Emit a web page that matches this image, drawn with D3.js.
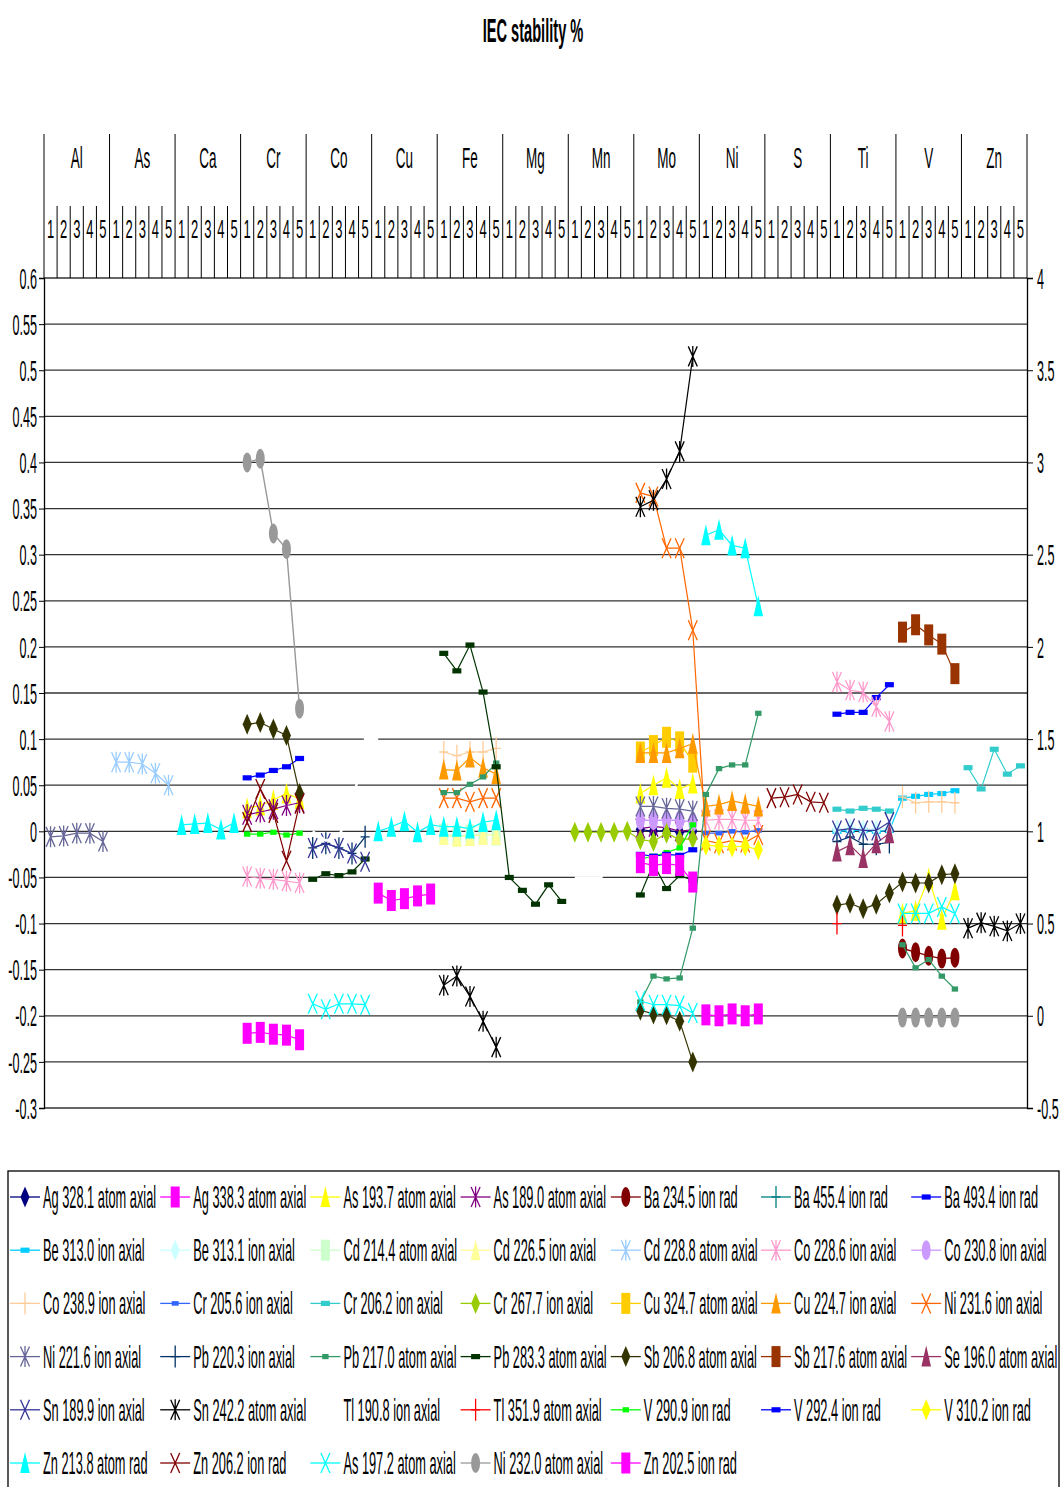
<!DOCTYPE html>
<html><head><meta charset="utf-8">
<script src="https://cdn.jsdelivr.net/npm/d3@7"></script>
<style>
body{margin:0;background:#fff}
svg{display:block}
text{font-family:"Liberation Sans",Arial,sans-serif;fill:#000}
</style>
</head><body>
<svg id="c" width="1062" height="1487"></svg>
<script>
// ---------- categories & ticks ----------
const elements = ["Al","As","Ca","Cr","Co","Cu","Fe","Mg","Mn","Mo","Ni","S","Ti","V","Zn"];
const subLabels = ["1","2","3","4","5"];
const leftTicks = [0.6,0.55,0.5,0.45,0.4,0.35,0.3,0.25,0.2,0.15,0.1,0.05,0,-0.05,-0.1,-0.15,-0.2,-0.25,-0.3];
const rightTicks = [4,3.5,3,2.5,2,1.5,1,0.5,0,-0.5];

// ---------- series names (legend order) ----------
const seriesNames = [
 "Ag 328.1 atom axial","Ag 338.3 atom axial","As 193.7 atom axial","As 189.0 atom axial","Ba 234.5 ion rad","Ba 455.4 ion rad","Ba 493.4 ion rad",
 "Be 313.0 ion axial","Be 313.1 ion axial","Cd 214.4 atom axial","Cd 226.5 ion axial","Cd 228.8 atom axial","Co 228.6 ion axial","Co 230.8 ion axial",
 "Co 238.9 ion axial","Cr 205.6 ion axial","Cr 206.2 ion axial","Cr 267.7 ion axial","Cu 324.7 atom axial","Cu 224.7 ion axial","Ni 231.6 ion axial",
 "Ni 221.6 ion axial","Pb 220.3 ion axial","Pb 217.0 atom axial","Pb 283.3 atom axial","Sb 206.8 atom axial","Sb 217.6 atom axial","Se 196.0 atom axial",
 "Sn 189.9 ion axial","Sn 242.2 atom axial","Tl 190.8 ion axial","Tl 351.9 atom axial","V 290.9 ion rad","V 292.4 ion rad","V 310.2 ion rad",
 "Zn 213.8 atom rad","Zn 206.2 ion rad","As 197.2 atom axial","Ni 232.0 atom axial","Zn 202.5 ion rad"
];

// ---------- values (left-axis units); each segment starts at sub 1 of group g ----------
const ag3281 = [{g:"Mo", v:[0.002,0.0,0.001,-0.001,0.0]}];
const ag3383 = [{g:"Cr", v:[-0.219,-0.218,-0.220,-0.221,-0.226]}];
const as1937 = [{g:"Cr", v:[0.025,0.028,0.034,0.041,0.035]},{g:"Mo", v:[0.041,0.050,0.058,0.046,0.052]},{g:"V", v:[-0.089,-0.086,-0.051,-0.096,-0.064]}];
const as1890 = [{g:"Cr", v:[0.018,0.021,0.024,0.028,0.031]},{g:"Mo", v:[0.003,0.005,0.004,0.0,0.002]}];
const ba2345 = [{g:"V", v:[-0.127,-0.131,-0.135,-0.138,-0.137]}];
const ba4554 = [];
const ba4934 = [{g:"Cr", v:[0.058,0.061,0.066,0.070,0.079]},{g:"Ti", v:[0.127,0.129,0.129,0.145,0.159]}];
const be3130 = [{g:"Ti", v:[0.0,0.001,0.001,0.0,0.001,0.036,0.038,0.040,0.041,0.044]}];
const be3131 = [{g:"Ti", v:[0.002,0.003,0.002,0.002,0.003]}];
const cd2144 = [{g:"Fe", v:[-0.003,-0.005,-0.004,-0.003,-0.004]}];
const cd2265 = [{g:"Fe", v:[-0.004,-0.006,-0.005,-0.004,-0.004]}];
const cd2288 = [{g:"As", v:[0.075,0.075,0.073,0.063,0.050]}];
const co2286 = [{g:"Cr", v:[-0.049,-0.051,-0.052,-0.054,-0.056]},{g:"Ni", v:[0.012,0.013,0.013,0.012,0.012]},{g:"Ti", v:[0.162,0.153,0.151,0.135,0.119]}];
const co2308 = [{g:"Mo", v:[0.012,0.012,0.012,0.012,0.010]}];
const co2389 = [{g:"Fe", v:[0.086,0.082,0.086,0.086,0.090]},{g:"V", v:[0.037,0.031,0.032,0.032,0.031]}];
const cr2056 = [{g:"Ni", v:[-0.002,-0.002,0.0,-0.001,0.001]}];
const cr2062 = [{g:"Ti", v:[0.024,0.022,0.025,0.024,0.022]},{g:"Zn", v:[0.069,0.046,0.089,0.062,0.071]}];
const cr2677 = [{g:"Mn", v:[-0.001,-0.001,-0.001,-0.001,0.0,-0.009,-0.011,-0.002,-0.009,-0.008]}];
const cu3247 = [{g:"Mo", v:[0.086,0.093,0.102,0.097,0.075]}];
const cu2247 = [{g:"Fe", v:[0.067,0.066,0.080,0.069,0.062]},{g:"Mo", v:[0.085,0.085,0.085,0.090,0.095,0.027,0.029,0.033,0.030,0.027]}];
const ni2316 = [{g:"Fe", v:[0.036,0.036,0.032,0.036,0.036]},{g:"Mo", v:[0.367,0.363,0.307,0.307,0.218,-0.010,-0.013,-0.010,-0.012,-0.004]}];
const ni2216 = [{g:"Al", v:[-0.006,-0.005,-0.002,-0.002,-0.011]},{g:"Mo", v:[0.027,0.027,0.025,0.024,0.022]}];
const pb2203 = [{g:"Co", v:[-0.018,-0.013,-0.018,-0.024,-0.006]},{g:"Ti", v:[-0.011,-0.006,-0.014,-0.014,-0.012]}];
const pb2170 = [{g:"Fe", v:[0.042,0.042,0.051,0.059,0.074]},{g:"Mo", v:[-0.185,-0.157,-0.160,-0.159,-0.105,0.040,0.068,0.072,0.072,0.128]},{g:"V", v:[-0.123,-0.148,-0.139,-0.157,-0.171]}];
const pb2833 = [{g:"Co", v:[-0.052,-0.046,-0.048,-0.044,-0.030]},{g:"Fe", v:[0.193,0.174,0.202,0.151,0.070,-0.050,-0.064,-0.079,-0.058,-0.076]},{g:"Mo", v:[-0.069,-0.035,-0.062,-0.048,-0.053]}];
const sb2068 = [{g:"Cr", v:[0.116,0.118,0.111,0.104,0.041]},{g:"Mo", v:[-0.194,-0.198,-0.199,-0.206,-0.250]},{g:"Ti", v:[-0.080,-0.078,-0.084,-0.079,-0.067,-0.055,-0.056,-0.056,-0.047,-0.046]}];
const sb2176 = [{g:"V", v:[0.216,0.224,0.213,0.203,0.171]}];
const se1960 = [{g:"Ti", v:[-0.022,-0.015,-0.029,-0.013,-0.002]}];
const sn1899 = [{g:"Co", v:[-0.018,-0.013,-0.018,-0.024,-0.033]},{g:"Ti", v:[0.001,0.003,0.001,0.001,0.010]}];
const sn2422 = [{g:"Fe", v:[-0.167,-0.157,-0.179,-0.206,-0.234]},{g:"Mo", v:[0.352,0.359,0.382,0.412,0.515]},{g:"Zn", v:[-0.105,-0.099,-0.103,-0.108,-0.100]}];
const tl1908 = [{g:"Co", v:[0.0,-0.01,-0.005,0.025,0.1,0.1]},{g:"Mn", v:[-0.05,-0.05,-0.05,-0.03,-0.02]}];
const tl3519 = [{g:"Ti", v:[-0.100]},{g:"V", v:[-0.102]}];
const v2909  = [{g:"Cr", v:[-0.003,-0.003,-0.001,-0.004,-0.002]},{g:"Mo", v:[-0.030,-0.027,-0.023,-0.018,0.007]}];
const v2924  = [{g:"Mo", v:[-0.025,-0.027,-0.025,-0.026,-0.020]}];
const v3102  = [{g:"Ni", v:[-0.015,-0.016,-0.017,-0.016,-0.020]}];
const zn2138 = [{g:"Ca", v:[0.007,0.008,0.009,0.002,0.009]},{g:"Cu", v:[0.0,0.005,0.011,-0.001,0.007,0.005,0.005,0.003,0.010,0.012]},{g:"Ni", v:[0.321,0.327,0.310,0.307,0.244]}];
const zn2062 = [{g:"Cr", v:[0.010,0.046,0.020,-0.032,0.030]},{g:"S", v:[0.036,0.037,0.040,0.032,0.031]}];
const as1972 = [{g:"Co", v:[-0.187,-0.193,-0.187,-0.187,-0.188]},{g:"Mo", v:[-0.184,-0.188,-0.188,-0.189,-0.197]},{g:"V", v:[-0.089,-0.089,-0.089,-0.082,-0.089]}];
const ni2320 = [{g:"Cr", v:[0.400,0.404,0.323,0.306,0.133]},{g:"V", v:[-0.202,-0.202,-0.202,-0.202,-0.202]}];
const zn2025 = [{g:"Cu", v:[-0.067,-0.075,-0.073,-0.070,-0.068]},{g:"Mo", v:[-0.034,-0.037,-0.035,-0.037,-0.055]},{g:"Ni", v:[-0.199,-0.200,-0.198,-0.200,-0.198]}];

const seriesData = [ag3281,ag3383,as1937,as1890,ba2345,ba4554,ba4934,be3130,be3131,cd2144,cd2265,cd2288,co2286,co2308,
 co2389,cr2056,cr2062,cr2677,cu3247,cu2247,ni2316,ni2216,pb2203,pb2170,pb2833,sb2068,sb2176,se1960,
 sn1899,sn2422,tl1908,tl3519,v2909,v2924,v3102,zn2138,zn2062,as1972,ni2320,zn2025];

// ---------- styles ----------
const seriesColors = ["#000080","#FF00FF","#FFFF00","#800080","#800000","#008080","#0000FF",
 "#00CCFF","#CCFFFF","#CCFFCC","#FFFF99","#99CCFF","#FF99CC","#CC99FF",
 "#FFCC99","#3366FF","#33CCCC","#99CC00","#FFCC00","#FF9900","#FF6600",
 "#666699","#003366","#339966","#003300","#333300","#993300","#993366",
 "#333399","#000000","#FFFFFF","#FF0000","#00FF00","#0000FF","#FFFF00",
 "#00FFFF","#800000","#00FFFF","#999999","#FF00FF"];
const seriesMarkers = ["diamond","rect","tri","star","circle","plus","dash",
 "dash","diamond","rect","tri","star","star","circle",
 "plus","dashs","dash","diamond","rect","tri","x",
 "star","plus","sq","dash","diamond","rect","tri",
 "x","star","none","plus","sq","dash","diamond",
 "tri","x","x","circle","rect"];

// ---------- geometry ----------
const L = 44, R = 1027, T = 278, B = 1108;
const svg = d3.select("#c");
const cats = elements.flatMap(e => subLabels.map(s => e + "|" + s));
const x = d3.scaleBand().domain(cats).range([L, R]).padding(0);
const xc = i => x(cats[i]) + x.bandwidth() / 2;
const yL = d3.scaleLinear().domain([-0.3, 0.6]).range([B, T]);
const yR = d3.scaleLinear().domain([-0.5, 4]).range([B, T]);

function stext(parent, px, py, str, size, sx, anchor, weight) {
  const g = parent.append("g").attr("transform", `translate(${px},${py}) scale(${sx},1)`);
  g.append("text").attr("x", 0).attr("y", 0).attr("text-anchor", anchor || "start")
    .attr("font-size", size).attr("font-weight", weight || "normal").text(str);
  return g;
}

// title
stext(svg, 533, 42, "IEC stability %", 34, 0.43, "middle", "bold");

// gridlines
svg.append("g").selectAll("line").data(leftTicks).join("line")
  .attr("x1", L).attr("x2", R).attr("y1", d => yL(d)).attr("y2", d => yL(d))
  .attr("stroke", "#333").attr("stroke-width", 1.3);

// header category structure
const hdr = svg.append("g");
cats.forEach((c, i) => {
  const xl = x(c);
  const isGroup = i % 5 === 0;
  hdr.append("line").attr("x1", xl).attr("x2", xl).attr("y1", isGroup ? 134 : 206).attr("y2", T)
    .attr("stroke", "#000").attr("stroke-width", 1);
  stext(hdr, xl + x.bandwidth() / 2, 238, subLabels[i % 5], 26, 0.5, "middle");
});
hdr.append("line").attr("x1", R).attr("x2", R).attr("y1", 134).attr("y2", T).attr("stroke", "#000");
elements.forEach((e, k) => {
  const cx = x(e + "|1") + x.bandwidth() * 2.5;
  stext(hdr, cx, 168, e, 30, 0.45, "middle");
});

// left axis
const sxAx = 0.42;
const gl = svg.append("g").attr("transform", `translate(${L},0)`)
  .call(d3.axisLeft(yL).tickValues(leftTicks).tickSize(5).tickFormat(d => String(+d.toFixed(2))));
gl.selectAll("path").attr("stroke", "#000").attr("stroke-width", 1.3);
gl.selectAll("line").attr("stroke", "#000");
gl.selectAll("text").attr("font-size", 30).attr("font-family", '"Liberation Sans",Arial,sans-serif')
  .attr("fill", "#000").attr("dy", "0.34em").attr("x", -7 / sxAx).attr("transform", `scale(${sxAx},1)`);

// right axis
const gr = svg.append("g").attr("transform", `translate(${R},0)`)
  .call(d3.axisRight(yR).tickValues(rightTicks).tickSize(6).tickFormat(d => String(d)));
gr.selectAll("path").attr("stroke", "#000").attr("stroke-width", 1.3);
gr.selectAll("line").attr("stroke", "#000");
gr.selectAll("text").attr("font-size", 30).attr("font-family", '"Liberation Sans",Arial,sans-serif')
  .attr("fill", "#000").attr("dy", "0.34em").attr("x", 10 / sxAx).attr("transform", `scale(${sxAx},1)`);

// ---------- markers ----------
function markerNode(g, type, color) {
  const filled = {diamond:1, rect:1, tri:1, circle:1, dash:1, dashs:1, sq:1};
  let p = null;
  if (type === "diamond") p = "M0,-10.5L4.5,0L0,10.5L-4.5,0Z";
  else if (type === "rect") p = "M-4.5,-10.5h9v21h-9Z";
  else if (type === "tri") p = "M0,-11L4.8,10L-4.8,10Z";
  else if (type === "dash") p = "M-4.5,-2.6h9v5.2h-9Z";
  else if (type === "dashs") p = "M-3.5,-2.3h7v4.6h-7Z";
  else if (type === "sq") p = "M-3.2,-2.6h6.4v5.2h-6.4Z";
  else if (type === "star") p = "M-4.5,-10L4.5,10M4.5,-10L-4.5,10M0,-10.5V10.5";
  else if (type === "x") p = "M-4.5,-10L4.5,10M4.5,-10L-4.5,10";
  else if (type === "plus") p = "M0,-11V11M-4.5,0H4.5";
  if (type === "circle") {
    g.append("ellipse").attr("rx", 4.5).attr("ry", 10).attr("fill", color);
  } else if (p) {
    const el = g.append("path").attr("d", p);
    if (filled[type]) el.attr("fill", color);
    else el.attr("fill", "none").attr("stroke", color).attr("stroke-width", 1.3);
  }
}

// ---------- series ----------
const plot = svg.append("g");
const line = d3.line().x(d => xc(d.i)).y(d => yL(d.v));
seriesData.forEach((segs, si) => {
  const color = seriesColors[si], mk = seriesMarkers[si];
  const sg = plot.append("g");
  segs.forEach(seg => {
    const start = elements.indexOf(seg.g) * 5;
    const pts = seg.v.map((v, j) => ({i: start + j, v}));
    if (pts.length > 1) {
      sg.append("path").attr("d", line(pts)).attr("fill", "none").attr("stroke", color)
        .attr("stroke-width", mk === "none" ? 2.5 : (mk === "circle" ? 1.4 : 1.2));
    }
    pts.forEach(d => {
      const m = sg.append("g").attr("transform", `translate(${xc(d.i)},${yL(d.v)})`);
      markerNode(m, mk, color);
    });
  });
});

// ---------- legend ----------
const lg = svg.append("g");
lg.append("rect").attr("x", 8).attr("y", 1171).attr("width", 1051).attr("height", 330)
  .attr("fill", "#fff").attr("stroke", "#000").attr("stroke-width", 1.3);
seriesNames.forEach((name, i) => {
  const col = i % 7, row = Math.floor(i / 7);
  const x0 = 10 + col * 150.2, y0 = 1197 + row * 53.2;
  const color = seriesColors[i];
  const it = lg.append("g");
  it.append("line").attr("x1", x0).attr("x2", x0 + 30).attr("y1", y0).attr("y2", y0)
    .attr("stroke", color).attr("stroke-width", 1.3);
  const m = it.append("g").attr("transform", `translate(${x0 + 15},${y0})`);
  markerNode(m, seriesMarkers[i], color);
  stext(it, x0 + 33, y0 + 11, name, 32, 0.4, "start");
});
</script>
</body></html>
